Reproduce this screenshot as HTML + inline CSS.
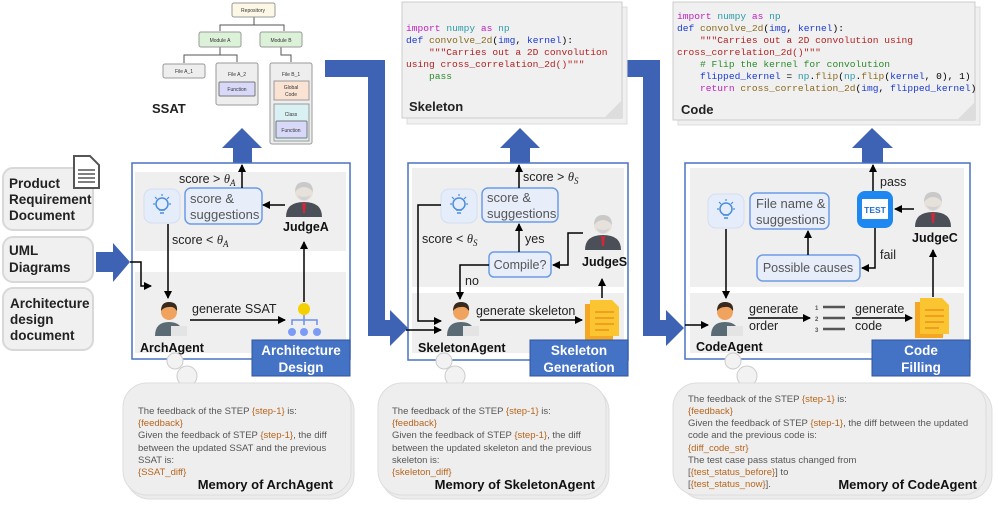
<!DOCTYPE html>
<html><head><meta charset="utf-8"><style>
html,body{margin:0;padding:0;background:#fff;}
svg{display:block;font-family:"Liberation Sans",sans-serif;}
.mono{font-family:"Liberation Mono",monospace;font-size:9.6px;white-space:pre;}
.b{font-weight:bold;}
.mem{font-size:9.5px;fill:#555;}
.or{fill:#b8651c;}
</style></head><body>
<svg width="996" height="511" viewBox="0 0 996 511" xmlns="http://www.w3.org/2000/svg">
<defs>
<marker id="ah" markerWidth="8" markerHeight="8" refX="7" refY="4" orient="auto" markerUnits="userSpaceOnUse">
<path d="M0,0 L8,4 L0,8 z" fill="#000"/></marker>
<g id="person">
<path d="M3,36 Q3,22 17,22 Q31,22 31,36 z" fill="#5b6b75"/>
<circle cx="17" cy="12" r="8" fill="#f0a35e"/>
<path d="M9,11 Q9,2 17,2 Q26,2 25,11 Q22,6 17,7 Q12,7 9,11 z" fill="#3a2a1e"/>
<rect x="19" y="26" width="16" height="10" fill="#e4e4e4"/>
</g>
<g id="judge">
<path d="M1,37 Q1,22 19,22 Q37,22 37,37 z" fill="#4b5058"/>
<path d="M17,23 L21,23 L20,33 L18,33 z" fill="#d0273a"/>
<circle cx="19" cy="12" r="9" fill="#e7e1dc"/>
<path d="M10,12 Q10,2 19,2 Q28,2 28,12 Q24,7 19,7 Q14,7 10,12 z" fill="#c9c9c9"/>
<path d="M12,15 Q19,26 26,15 Q19,19 12,15 z" fill="#d2d2d2"/>
</g>
<g id="bulb">
<rect x="0" y="0" width="36" height="34" rx="8" fill="#e4edf9" stroke="#d3def1"/>
<circle cx="18" cy="15" r="6" fill="none" stroke="#4a8ee0" stroke-width="1.5"/>
<path d="M15,21 L21,21 M16,24 L20,24" stroke="#4a8ee0" stroke-width="1.5"/>
<path d="M18,5 L18,7 M9,15 L11,15 M25,15 L27,15 M11,8 L13,10 M25,8 L23,10" stroke="#4a8ee0" stroke-width="1.2"/>
</g>
<g id="doc">
<rect x="0" y="4" width="28" height="36" fill="#f5a623"/>
<path d="M5,0 L27,0 L34,7 L34,36 L5,36 z" fill="#fbc531"/>
<path d="M10,12 L29,12 M10,18 L29,18 M10,24 L29,24 M10,30 L24,30" stroke="#f0a020" stroke-width="2"/>
</g>
<g id="cloud">
<rect x="6" y="8" width="228" height="112" rx="24" fill="#ececec" stroke="#ddd"/>
<rect x="3" y="4" width="228" height="112" rx="24" fill="#eeeeee" stroke="#ddd"/>
</g>
</defs>

<!-- Inputs -->
<rect x="3" y="168" width="90" height="62" rx="10" fill="#f0f0f0" stroke="#d8d8d8" stroke-width="2"/>
<rect x="3" y="237" width="90" height="45" rx="10" fill="#f0f0f0" stroke="#d8d8d8" stroke-width="2"/>
<rect x="3" y="288" width="90" height="62" rx="10" fill="#f0f0f0" stroke="#d8d8d8" stroke-width="2"/>
<text class="b" font-size="13.5" fill="#222"><tspan x="9" y="188">Product</tspan><tspan x="9" y="204">Requirement</tspan><tspan x="9" y="220">Document</tspan></text>
<text class="b" font-size="13.5" fill="#222"><tspan x="9" y="255">UML</tspan><tspan x="9" y="272">Diagrams</tspan></text>
<text class="b" font-size="13.5" fill="#222"><tspan x="10" y="308">Architecture</tspan><tspan x="10" y="324">design</tspan><tspan x="10" y="340">document</tspan></text>
<path d="M74,156 L90,156 L99,165 L99,188 L74,188 z" fill="#fff" stroke="#555" stroke-width="2"/>
<path d="M78,170 L95,170 M78,174 L95,174 M78,178 L95,178 M78,182 L95,182" stroke="#555" stroke-width="1.5"/>
<polygon points="96,252 113,252 113,243 130,262 113,282 113,272 96,272" fill="#3e63b5"/>

<!-- SSAT tree -->
<g font-size="5" fill="#333" text-anchor="middle">
<path d="M254,17 L254,25 L220,25 L220,31 M254,25 L284,25 L284,31 M220,47 L220,55 L184,55 L184,63 M220,55 L237,55 L237,62 M281,47 L281,55 L291,55 L291,62" stroke="#555" fill="none"/>
<rect x="232" y="3" width="43" height="14" rx="2" fill="#fdf8e6" stroke="#999"/><text x="253" y="12">Repository</text>
<rect x="199" y="32" width="42" height="15" rx="2" fill="#dcf2d8" stroke="#999"/><text x="220" y="42">Module A</text>
<rect x="260" y="32" width="42" height="15" rx="2" fill="#dcf2d8" stroke="#999"/><text x="281" y="42">Module B</text>
<rect x="163" y="64" width="42" height="14" rx="2" fill="#eee" stroke="#999"/><text x="184" y="73">File A_1</text>
<rect x="216" y="63" width="42" height="42" rx="2" fill="#eee" stroke="#999"/><text x="237" y="76">File A_2</text>
<rect x="219" y="82" width="36" height="14" rx="1" fill="#d8d8f8" stroke="#777"/><text x="237" y="91">Function</text>
<rect x="270" y="63" width="42" height="81" rx="2" fill="#eee" stroke="#999"/><text x="291" y="76">File B_1</text>
<rect x="274" y="81" width="35" height="19" fill="#fbe3d3" stroke="#999"/><text x="291" y="89">Global</text><text x="291" y="96">Code</text>
<rect x="274" y="104" width="35" height="37" fill="#d9f1f2" stroke="#999"/><text x="291" y="116">Class</text>
<rect x="276" y="121" width="31" height="17" rx="1" fill="#d8d8f8" stroke="#777"/><text x="291" y="132">Function</text>
</g>
<text x="152" y="113" class="b" font-size="13" fill="#222">SSAT</text>

<!-- big bent arrows -->
<path d="M325,60 L385,60 L385,320 L390,320 L390,310 L408,328 L390,346 L390,336 L368,336 L368,77 L325,77 z" fill="#3e63b5"/>
<path d="M627,60 L660,60 L660,320 L666,320 L666,310 L684,328 L666,346 L666,336 L643,336 L643,77 L627,77 z" fill="#3e63b5"/>

<!-- up arrows -->
<polygon points="233,165 233,148 222,148 242,128 262,148 252,148 252,165" fill="#3e63b5"/>
<polygon points="510,165 510,148 500,148 520,128 540,148 530,148 530,165" fill="#3e63b5"/>
<polygon points="862,165 862,148 852,148 872,128 893,148 883,148 883,165" fill="#3e63b5"/>

<!-- Panel 1 -->
<rect x="132" y="163" width="218" height="196" fill="#fff" stroke="#4a72c0" stroke-width="1.5"/>
<rect x="135" y="172" width="211" height="79" fill="#efefef"/>
<rect x="135" y="272" width="211" height="81" fill="#efefef"/>
<use href="#bulb" x="144" y="189"/>
<rect x="185" y="188" width="77" height="36" rx="6" fill="#e7eefa" stroke="#6d9be6" stroke-width="1.5"/>
<text font-size="13" fill="#555"><tspan x="190" y="203">score &amp;</tspan><tspan x="190" y="219">suggestions</tspan></text>
<text x="179" y="183" font-size="12.5" fill="#222">score &gt; <tspan font-family="Liberation Serif" font-style="italic">θ</tspan><tspan font-family="Liberation Serif" font-style="italic" font-size="9" dy="3">A</tspan></text>
<line x1="242" y1="188" x2="242" y2="165" stroke="#000" stroke-width="1.5" marker-end="url(#ah)"/>
<use href="#judge" x="285" y="180"/>
<text x="283" y="231" class="b" font-size="12.5" fill="#111">JudgeA</text>
<line x1="285" y1="205" x2="263" y2="205" stroke="#000" stroke-width="1.5" marker-end="url(#ah)"/>
<text x="172" y="244" font-size="12.5" fill="#222">score &lt; <tspan font-family="Liberation Serif" font-style="italic">θ</tspan><tspan font-family="Liberation Serif" font-style="italic" font-size="9" dy="3">A</tspan></text>
<line x1="168" y1="224" x2="168" y2="298" stroke="#000" stroke-width="1.5" marker-end="url(#ah)"/>
<path d="M130,262 L141,262 L141,286 L151,286" fill="none" stroke="#000" stroke-width="1.5" marker-end="url(#ah)"/>
<use href="#person" x="152" y="300"/>
<text x="140" y="352" class="b" font-size="12.5" fill="#111">ArchAgent</text>
<text x="192" y="313" font-size="12.5" fill="#222">generate SSAT</text>
<line x1="190" y1="320" x2="285" y2="320" stroke="#000" stroke-width="1.5" marker-end="url(#ah)"/>
<circle cx="304" cy="309" r="6" fill="#f5d000"/>
<path d="M292,325 L292,320 L317,320 L317,325 M304,315 L304,325" stroke="#6b8ff0" fill="none" stroke-width="1.5"/>
<circle cx="292" cy="332" r="4" fill="#7b9cf5"/><circle cx="304" cy="332" r="4" fill="#7b9cf5"/><circle cx="317" cy="332" r="4" fill="#7b9cf5"/>
<line x1="304" y1="302" x2="304" y2="242" stroke="#000" stroke-width="1.5" marker-end="url(#ah)"/>
<rect x="252" y="340" width="98" height="36" fill="#4472c4" stroke="#2f559e"/>
<text x="301" y="355" text-anchor="middle" class="b" font-size="13.5" fill="#fff">Architecture</text>
<text x="301" y="372" text-anchor="middle" class="b" font-size="13.5" fill="#fff">Design</text>

<!-- Skeleton doc -->
<rect x="407" y="7" width="220" height="117" fill="#f0f0f0" stroke="#ddd"/>
<rect x="402" y="2" width="220" height="116" fill="#f0f0f0" stroke="#ccc"/>
<path d="M604,118 L622,100 L622,118 z" fill="#ddd"/>
<text class="mono" xml:space="preserve"><tspan x="406" y="31"><tspan fill="#c020c0">import</tspan> <tspan fill="#2a9aa8">numpy</tspan> <tspan fill="#c020c0">as</tspan> <tspan fill="#2a9aa8">np</tspan></tspan><tspan x="406" y="43"><tspan fill="#1a3ad0">def</tspan> <tspan fill="#8a6a20">convolve_2d</tspan>(<tspan fill="#1a3ad0">img</tspan>, <tspan fill="#1a3ad0">kernel</tspan>):</tspan><tspan x="406" y="55" fill="#b22222">    """Carries out a 2D convolution</tspan><tspan x="406" y="67" fill="#b22222">using cross_correlation_2d()"""</tspan><tspan x="406" y="79" fill="#2a8a2a">    pass</tspan></text>
<text x="409" y="111" class="b" font-size="13" fill="#222">Skeleton</text>

<!-- Panel 2 -->
<rect x="408" y="163" width="220" height="197" fill="#fff" stroke="#4a72c0" stroke-width="1.5"/>
<rect x="412" y="168" width="212" height="119" fill="#efefef"/>
<rect x="412" y="293" width="212" height="60" fill="#efefef"/>
<use href="#bulb" x="441" y="189"/>
<rect x="482" y="188" width="76" height="34" rx="6" fill="#e7eefa" stroke="#6d9be6" stroke-width="1.5"/>
<text font-size="13" fill="#555"><tspan x="487" y="202">score &amp;</tspan><tspan x="487" y="218">suggestions</tspan></text>
<text x="523" y="181" font-size="12.5" fill="#222">score &gt; <tspan font-family="Liberation Serif" font-style="italic">θ</tspan><tspan font-family="Liberation Serif" font-style="italic" font-size="9" dy="3">S</tspan></text>
<line x1="519" y1="188" x2="519" y2="165" stroke="#000" stroke-width="1.5" marker-end="url(#ah)"/>
<path d="M441,205 L418,205 L418,321 L441,321" fill="none" stroke="#000" stroke-width="1.5" marker-end="url(#ah)"/>
<text x="422" y="243" font-size="12.5" fill="#222">score &lt; <tspan font-family="Liberation Serif" font-style="italic">θ</tspan><tspan font-family="Liberation Serif" font-style="italic" font-size="9" dy="3">S</tspan></text>
<rect x="489" y="252" width="62" height="25" rx="5" fill="#e7eefa" stroke="#6d9be6" stroke-width="1.5"/>
<text x="520" y="269" text-anchor="middle" font-size="12.5" fill="#555">Compile?</text>
<line x1="519" y1="252" x2="519" y2="224" stroke="#000" stroke-width="1.5" marker-end="url(#ah)"/>
<text x="525" y="243" font-size="12.5" fill="#222">yes</text>
<use href="#judge" x="584" y="213"/>
<text x="582" y="266" class="b" font-size="12.5" fill="#111">JudgeS</text>
<path d="M583,233 L568,233 L568,265 L553,265" fill="none" stroke="#000" stroke-width="1.5" marker-end="url(#ah)"/>
<path d="M489,265 L460,265 L460,299" fill="none" stroke="#000" stroke-width="1.5" marker-end="url(#ah)"/>
<text x="465" y="285" font-size="12.5" fill="#222">no</text>
<path d="M406,330 L441,330" fill="none" stroke="#000" stroke-width="1.5" marker-end="url(#ah)"/>
<use href="#person" x="444" y="300"/>
<text x="418" y="352" class="b" font-size="12.5" fill="#111">SkeletonAgent</text>
<text x="476" y="315" font-size="12.5" fill="#222">generate skeleton</text>
<line x1="480" y1="320" x2="582" y2="320" stroke="#000" stroke-width="1.5" marker-end="url(#ah)"/>
<use href="#doc" x="585" y="300"/>
<line x1="602" y1="298" x2="602" y2="279" stroke="#000" stroke-width="1.5" marker-end="url(#ah)"/>
<rect x="530" y="340" width="98" height="36" fill="#4472c4" stroke="#2f559e"/>
<text x="579" y="355" text-anchor="middle" class="b" font-size="13.5" fill="#fff">Skeleton</text>
<text x="579" y="372" text-anchor="middle" class="b" font-size="13.5" fill="#fff">Generation</text>

<!-- Code doc -->
<rect x="678" y="7" width="302" height="118" fill="#f0f0f0" stroke="#ddd"/>
<rect x="673" y="2" width="302" height="118" fill="#f0f0f0" stroke="#ccc"/>
<path d="M957,120 L975,102 L975,120 z" fill="#ddd"/>
<text class="mono" xml:space="preserve"><tspan x="677" y="19"><tspan fill="#c020c0">import</tspan> <tspan fill="#2a9aa8">numpy</tspan> <tspan fill="#c020c0">as</tspan> <tspan fill="#2a9aa8">np</tspan></tspan><tspan x="677" y="31"><tspan fill="#1a3ad0">def</tspan> <tspan fill="#8a6a20">convolve_2d</tspan>(<tspan fill="#1a3ad0">img</tspan>, <tspan fill="#1a3ad0">kernel</tspan>):</tspan><tspan x="677" y="43" fill="#b22222">    """Carries out a 2D convolution using</tspan><tspan x="677" y="55" fill="#b22222">cross_correlation_2d()"""</tspan><tspan x="677" y="67" fill="#2a8a2a">    # Flip the kernel for convolution</tspan><tspan x="677" y="79"><tspan fill="#1a3ad0">    flipped_kernel</tspan> = <tspan fill="#2a9aa8">np</tspan>.<tspan fill="#8a6a20">flip</tspan>(<tspan fill="#2a9aa8">np</tspan>.<tspan fill="#8a6a20">flip</tspan>(<tspan fill="#1a3ad0">kernel</tspan>, 0), 1)</tspan><tspan x="677" y="91"><tspan fill="#c020c0">    return</tspan> <tspan fill="#8a6a20">cross_correlation_2d</tspan>(<tspan fill="#1a3ad0">img</tspan>, <tspan fill="#1a3ad0">flipped_kernel</tspan>)</tspan></text>
<text x="681" y="114" class="b" font-size="13" fill="#222">Code</text>

<!-- Panel 3 -->
<rect x="685" y="163" width="285" height="196" fill="#fff" stroke="#4a72c0" stroke-width="1.5"/>
<rect x="690" y="168" width="274" height="119" fill="#efefef"/>
<rect x="690" y="293" width="274" height="60" fill="#efefef"/>
<use href="#bulb" x="708" y="194"/>
<rect x="750" y="193" width="79" height="36" rx="6" fill="#e7eefa" stroke="#6d9be6" stroke-width="1.5"/>
<text font-size="13" fill="#555"><tspan x="756" y="208">File name &amp;</tspan><tspan x="756" y="224">suggestions</tspan></text>
<rect x="857" y="191" width="36" height="37" rx="8" fill="#1e88f0"/>
<rect x="862" y="199" width="26" height="20" fill="#fff"/>
<text x="875" y="213" text-anchor="middle" class="b" font-size="8.5" fill="#1e6fd0">TEST</text>
<text x="880" y="186" font-size="12.5" fill="#222">pass</text>
<line x1="873" y1="191" x2="873" y2="165" stroke="#000" stroke-width="1.5" marker-end="url(#ah)"/>
<use href="#judge" x="914" y="190"/>
<text x="912" y="242" class="b" font-size="12.5" fill="#111">JudgeC</text>
<line x1="914" y1="209" x2="895" y2="209" stroke="#000" stroke-width="1.5" marker-end="url(#ah)"/>
<path d="M875,228 L875,268 L862,268" fill="none" stroke="#000" stroke-width="1.5" marker-end="url(#ah)"/>
<text x="880" y="259" font-size="12.5" fill="#222">fail</text>
<rect x="757" y="255" width="103" height="26" rx="6" fill="#e7eefa" stroke="#6d9be6" stroke-width="1.5"/>
<text x="808" y="272" text-anchor="middle" font-size="12.5" fill="#555">Possible causes</text>
<line x1="808" y1="255" x2="808" y2="231" stroke="#000" stroke-width="1.5" marker-end="url(#ah)"/>
<line x1="726" y1="229" x2="726" y2="298" stroke="#000" stroke-width="1.5" marker-end="url(#ah)"/>
<line x1="685" y1="325" x2="708" y2="325" stroke="#000" stroke-width="1.5" marker-end="url(#ah)"/>
<use href="#person" x="708" y="300"/>
<text x="696" y="351" class="b" font-size="12.5" fill="#111">CodeAgent</text>
<text font-size="12.5" fill="#222"><tspan x="749" y="313">generate</tspan><tspan x="749" y="330">order</tspan></text>
<line x1="748" y1="318" x2="810" y2="318" stroke="#000" stroke-width="1.5" marker-end="url(#ah)"/>
<g fill="#555" font-size="6" class="b"><text x="815" y="310">1</text><text x="815" y="321">2</text><text x="815" y="332">3</text></g>
<path d="M823,307 L845,307 M823,318 L845,318 M823,329 L845,329" stroke="#555" stroke-width="2.5"/>
<text font-size="12.5" fill="#222"><tspan x="855" y="313">generate</tspan><tspan x="855" y="330">code</tspan></text>
<line x1="852" y1="318" x2="912" y2="318" stroke="#000" stroke-width="1.5" marker-end="url(#ah)"/>
<use href="#doc" x="915" y="298"/>
<line x1="933" y1="297" x2="933" y2="250" stroke="#000" stroke-width="1.5" marker-end="url(#ah)"/>
<rect x="872" y="340" width="98" height="36" fill="#4472c4" stroke="#2f559e"/>
<text x="921" y="355" text-anchor="middle" class="b" font-size="13.5" fill="#fff">Code</text>
<text x="921" y="372" text-anchor="middle" class="b" font-size="13.5" fill="#fff">Filling</text>

<!-- thought bubbles -->
<g fill="#f2f2f2" stroke="#ccc">
<circle cx="175" cy="361" r="8"/><circle cx="187" cy="376" r="10"/>
<circle cx="444" cy="361" r="8"/><circle cx="455" cy="376" r="10"/>
<circle cx="733" cy="361" r="8"/><circle cx="747" cy="376" r="10"/>
</g>

<!-- memory clouds -->
<g transform="translate(120,379)"><use href="#cloud"/></g>
<g transform="translate(375,379)"><use href="#cloud"/></g>
<rect x="679" y="387" width="313" height="112" rx="24" fill="#ececec" stroke="#ddd"/>
<rect x="673" y="383" width="313" height="112" rx="24" fill="#eeeeee" stroke="#ddd"/>

<text class="mem"><tspan x="138" y="414">The feedback of the STEP <tspan class="or">{step-1}</tspan> is:</tspan>
<tspan x="138" y="426" class="or">{feedback}</tspan>
<tspan x="138" y="438">Given the feedback of STEP <tspan class="or">{step-1}</tspan>, the diff</tspan>
<tspan x="138" y="451">between the updated SSAT and the previous</tspan>
<tspan x="138" y="463">SSAT is:</tspan>
<tspan x="138" y="475" class="or">{SSAT_diff}</tspan></text>
<text x="333" y="489" text-anchor="end" class="b" font-size="13" fill="#111">Memory of ArchAgent</text>

<text class="mem"><tspan x="392" y="414">The feedback of the STEP <tspan class="or">{step-1}</tspan> is:</tspan>
<tspan x="392" y="426" class="or">{feedback}</tspan>
<tspan x="392" y="438">Given the feedback of STEP <tspan class="or">{step-1}</tspan>, the diff</tspan>
<tspan x="392" y="451">between the updated skeleton and the previous</tspan>
<tspan x="392" y="463">skeleton is:</tspan>
<tspan x="392" y="475" class="or">{skeleton_diff}</tspan></text>
<text x="595" y="489" text-anchor="end" class="b" font-size="13" fill="#111">Memory of SkeletonAgent</text>

<text class="mem"><tspan x="688" y="402">The feedback of the STEP <tspan class="or">{step-1}</tspan> is:</tspan>
<tspan x="688" y="414" class="or">{feedback}</tspan>
<tspan x="688" y="426">Given the feedback of STEP <tspan class="or">{step-1}</tspan>, the diff between the updated</tspan>
<tspan x="688" y="438">code and the previous code is:</tspan>
<tspan x="688" y="451" class="or">{diff_code_str}</tspan>
<tspan x="688" y="463">The test case pass status changed from</tspan>
<tspan x="688" y="475">[<tspan class="or">{test_status_before}</tspan>] to</tspan>
<tspan x="688" y="487">[<tspan class="or">{test_status_now}</tspan>].</tspan></text>
<text x="977" y="489" text-anchor="end" class="b" font-size="13" fill="#111">Memory of CodeAgent</text>
</svg>
</body></html>
